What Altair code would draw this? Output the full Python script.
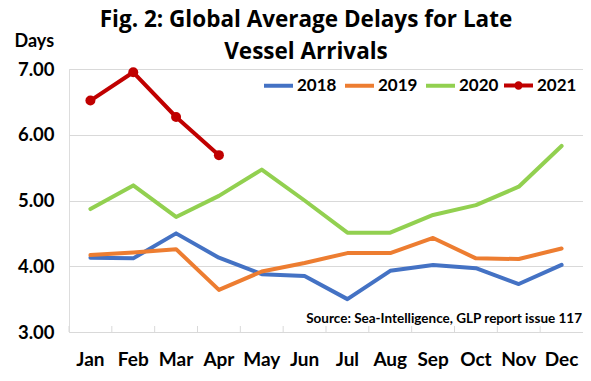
import altair as alt
import pandas as pd

months = ["Jan", "Feb", "Mar", "Apr", "May", "Jun", "Jul", "Aug", "Sep", "Oct", "Nov", "Dec"]
years = ["2018", "2019", "2020", "2021"]
colors = ["#4472C4", "#ED7D31", "#92D050", "#C00000"]

v2018 = [4.13, 4.12, 4.50, 4.13, 3.88, 3.85, 3.50, 3.93, 4.02, 3.97, 3.73, 4.02]
v2019 = [4.17, 4.21, 4.26, 3.64, 3.92, 4.05, 4.20, 4.20, 4.43, 4.12, 4.11, 4.27]
v2020 = [4.87, 5.23, 4.75, 5.07, 5.47, 5.00, 4.51, 4.51, 4.78, 4.93, 5.21, 5.83]
v2021 = [6.52, 6.95, 6.27, 5.69]

title_text = "Fig. 2: Global Average Delays for Late\nVessel Arrivals"
source_text = "Source: Sea-Intelligence, GLP report issue 117"
y_title = "Days"
y_ticks = [3, 4, 5, 6, 7]

rows = []
for yr, vals in zip(years, [v2018, v2019, v2020, v2021]):
    for m, v in zip(months, vals):
        rows.append({"month": m, "year": yr, "value": v})
df = pd.DataFrame(rows)
tick_df = pd.DataFrame({"month": months})
src_df = pd.DataFrame({"text": [source_text]})
title_df = pd.DataFrame({"text": [title_text]})

FONT = "Lato"
W, H = 514, 263

xscale = alt.Scale(type="band", domain=months, paddingInner=0, paddingOuter=0)
yscale = alt.Scale(domain=[3, 7], nice=False, zero=False)
cscale = alt.Scale(domain=years, range=colors)
fscale = alt.Scale(domain=["2021"], range=["#C00000"])

sym_path = "M-1,0L1,0M0.15,0A0.15,0.15,0,1,1,-0.15,0A0.15,0.15,0,1,1,0.15,0Z"

leg_common = dict(
    title=None, orient="none", direction="horizontal", legendY=0,
    symbolSize=841, symbolStrokeWidth=4,
    labelFont=FONT, labelFontSize=17, labelFontWeight="bold", labelColor="#000000",
    labelOffset=2, columnPadding=0,
)
legend_lines = alt.Legend(legendX=193, symbolType="stroke", values=years[:3], **leg_common)
legend_pts = alt.Legend(legendX=433, symbolType=sym_path, symbolStrokeColor="#C00000",
                        symbolFillColor="#C00000", **leg_common)

x_enc = alt.X("month:N", scale=xscale, bandPosition=0.5, sort=months,
              axis=alt.Axis(title=None, ticks=False, grid=False, domain=True,
                            domainColor="#D9D9D9", domainWidth=1, bandPosition=0.5,
                            labelFlush=False, labelAlign="center",
                            labelFont=FONT, labelFontSize=19, labelFontWeight="bold",
                            labelColor="#000000", labelPadding=27, labelAngle=0))
y_enc = alt.Y("value:Q", scale=yscale,
              axis=alt.Axis(title=y_title, values=y_ticks, format=".2f",
                            domain=False, ticks=False, grid=True,
                            gridColor="#D9D9D9", gridWidth=1,
                            labelFont=FONT, labelFontSize=18.5, labelFontWeight="bold",
                            labelColor="#000000", labelPadding=15,
                            titleFont=FONT, titleFontSize=18, titleFontWeight="bold",
                            titleColor="#000000", titleAngle=0, titleAlign="left",
                            titleBaseline="alphabetic", titleX=-55, titleY=-23))

lines = alt.Chart(df).mark_line(strokeWidth=4, strokeCap="round", strokeJoin="round").encode(
    x=x_enc, y=y_enc,
    color=alt.Color("year:N", scale=cscale, legend=legend_lines),
    detail="year:N",
)

pts = alt.Chart(df[df["year"] == "2021"]).mark_circle(size=100, opacity=1).encode(
    x=alt.X("month:N", scale=xscale, bandPosition=0.5, sort=months),
    y=alt.Y("value:Q", scale=yscale),
    fill=alt.Fill("year:N", scale=fscale, legend=legend_pts),
)

ticks = alt.Chart(tick_df).mark_rule(color="#D9D9D9", strokeWidth=1).encode(
    x=alt.X("month:N", scale=xscale, bandPosition=0, sort=months),
    y=alt.value(H - 6), y2=alt.value(H),
)

src = alt.Chart(src_df).mark_text(
    font=FONT, fontSize=13.5, fontWeight="bold", color="#000000",
    align="right", baseline="middle",
).encode(text="text:N", x=alt.value(W - 1), y=alt.value(250))

title = alt.Chart(title_df).mark_text(
    font="Open Sans", fontSize=22.5, fontWeight="bold", color="#000000",
    align="center", baseline="alphabetic", lineBreak="\n", lineHeight=32,
).encode(text="text:N", x=alt.value(237), y=alt.value(-42))

chart = alt.layer(ticks, lines, pts, src, title).properties(
    width=W, height=H,
    autosize=alt.AutoSizeParams(type="none"),
    padding={"left": 61, "top": 61, "right": 0, "bottom": 40},
).configure_view(stroke=None).configure(background="#FFFFFF")

chart.save("out.html", embed_options={"renderer": "svg", "actions": False})
